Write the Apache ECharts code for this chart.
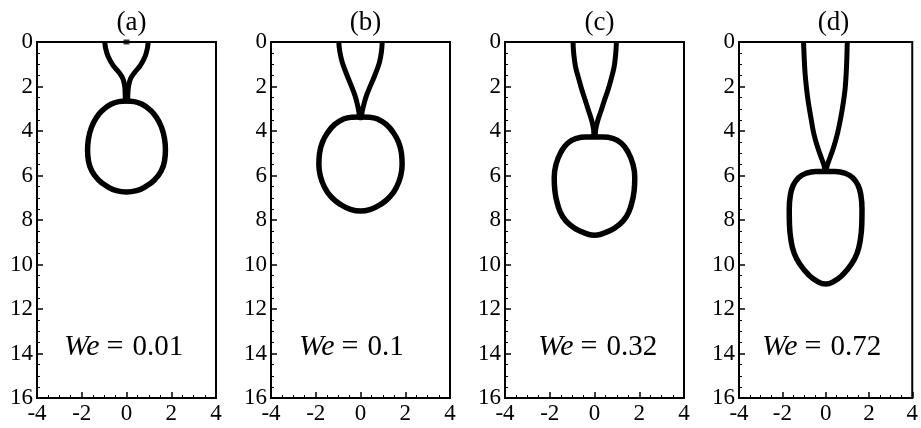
<!DOCTYPE html>
<html>
<head>
<meta charset="utf-8">
<title>Drop shapes</title>
<script src="https://cdn.jsdelivr.net/npm/echarts@6/dist/echarts.min.js"></script>
<style>
  html, body { margin: 0; padding: 0; background: #fff; }
  #main { width: 921px; height: 428px; }
</style>
</head>
<body>
<div id="main"></div>
<script>
// panel labels and Weber numbers
const panelTitles = ['(a)', '(b)', '(c)', '(d)']
const weValues = ['0.01', '0.1', '0.32', '0.72']
// axis ranges (x: -4..4, y: 0..16 downward), ticks every 2
const xRange = [-4, 4]
const yRange = [0, 16]
const tickStep = 2

// neck outlines, [x, y]: down the left side then up the right side
const neckA = [[-0.97, 0], [-0.93, 0.3], [-0.82, 0.65], [-0.6, 1.05], [-0.35, 1.35], [-0.16, 1.65], [-0.08, 2.0], [-0.06, 2.35], [-0.04, 2.65],
  [0.04, 2.65], [0.06, 2.35], [0.09, 2.0], [0.18, 1.65], [0.38, 1.35], [0.62, 1.05], [0.83, 0.65], [0.93, 0.3], [0.97, 0]]
const neckB = [[-0.97, 0], [-0.93, 0.4], [-0.82, 0.9], [-0.62, 1.45], [-0.42, 1.95], [-0.25, 2.4], [-0.14, 2.8], [-0.07, 3.15], [-0.04, 3.4],
  [0.04, 3.4], [0.07, 3.15], [0.15, 2.8], [0.27, 2.4], [0.45, 1.95], [0.66, 1.45], [0.85, 0.9], [0.94, 0.4], [0.97, 0]]
const neckC = [[-0.96, 0], [-0.93, 0.5], [-0.85, 1.1], [-0.72, 1.6], [-0.58, 2.1], [-0.42, 2.6], [-0.26, 3.1], [-0.12, 3.55], [-0.04, 3.95], [-0.02, 4.25],
  [0.02, 4.25], [0.05, 3.95], [0.14, 3.55], [0.29, 3.1], [0.45, 2.6], [0.62, 2.1], [0.76, 1.6], [0.88, 1.1], [0.95, 0.5], [0.98, 0]]
const neckD = [[-1.02, 0], [-0.99, 0.7], [-0.95, 1.4], [-0.88, 2.1], [-0.8, 2.7], [-0.68, 3.4], [-0.55, 4.1], [-0.38, 4.7], [-0.2, 5.2], [-0.06, 5.6], [-0.02, 5.82],
  [0.02, 5.82], [0.06, 5.6], [0.2, 5.2], [0.38, 4.7], [0.55, 4.1], [0.7, 3.4], [0.82, 2.7], [0.9, 2.1], [0.95, 1.4], [0.98, 0.7], [1.0, 0]]

// drop outlines, [x, y]: closed loop from the top point
const dropA = [[0, 2.65], [0.35, 2.68], [0.7, 2.8], [1.05, 3.05], [1.35, 3.4], [1.57, 3.85], [1.7, 4.35], [1.74, 4.85], [1.7, 5.35], [1.55, 5.8], [1.25, 6.2], [0.85, 6.5], [0.45, 6.68], [0, 6.74],
  [-0.45, 6.68], [-0.85, 6.5], [-1.25, 6.2], [-1.55, 5.8], [-1.7, 5.35], [-1.74, 4.85], [-1.7, 4.35], [-1.57, 3.85], [-1.35, 3.4], [-1.05, 3.05], [-0.7, 2.8], [-0.35, 2.68], [0, 2.65]]
const dropB = [[0, 3.37], [0.4, 3.38], [0.8, 3.48], [1.15, 3.7], [1.45, 4.05], [1.7, 4.5], [1.83, 5.0], [1.86, 5.5], [1.8, 6.0], [1.62, 6.5], [1.32, 6.95], [0.9, 7.3], [0.45, 7.52], [0, 7.6],
  [-0.45, 7.52], [-0.9, 7.3], [-1.32, 6.95], [-1.62, 6.5], [-1.8, 6.0], [-1.86, 5.5], [-1.83, 5.0], [-1.7, 4.5], [-1.45, 4.05], [-1.15, 3.7], [-0.8, 3.48], [-0.4, 3.38], [0, 3.37]]
const dropC = [[0, 4.27], [0.4, 4.27], [0.8, 4.33], [1.2, 4.55], [1.5, 4.95], [1.72, 5.5], [1.8, 6.1], [1.77, 6.7], [1.65, 7.3], [1.42, 7.85], [1.05, 8.25], [0.6, 8.52], [0.25, 8.65], [0, 8.68],
  [-0.25, 8.65], [-0.6, 8.52], [-1.05, 8.25], [-1.42, 7.85], [-1.65, 7.3], [-1.77, 6.7], [-1.8, 6.1], [-1.72, 5.5], [-1.5, 4.95], [-1.2, 4.55], [-0.8, 4.33], [-0.4, 4.27], [0, 4.27]]
const dropD = [[0, 5.82], [0.45, 5.82], [0.9, 5.9], [1.25, 6.1], [1.5, 6.45], [1.63, 6.9], [1.68, 7.5], [1.67, 8.2], [1.6, 8.9], [1.45, 9.5], [1.18, 10.0], [0.8, 10.45], [0.4, 10.75], [0, 10.88],
  [-0.4, 10.75], [-0.8, 10.45], [-1.18, 10.0], [-1.45, 9.5], [-1.6, 8.9], [-1.67, 8.2], [-1.68, 7.5], [-1.63, 6.9], [-1.5, 6.45], [-1.25, 6.1], [-0.9, 5.9], [-0.45, 5.82], [0, 5.82]]

// small marker at the nozzle centre in (a)
const markerA = [[0, 0]]

const necks = [neckA, neckB, neckC, neckD]
const drops = [dropA, dropB, dropC, dropD]

const serif = 'Liberation Serif, Times New Roman, serif'
const gridLefts = [37, 271, 505, 739]
const gridW = 179
const weLefts = [59, 294, 533, 757]

const grids = [], xAxes = [], yAxes = [], series = [], titles = []

gridLefts.forEach((left, i) => {
  grids.push({
    left: left, top: 42, width: gridW, height: 356,
    show: true, borderColor: '#000', borderWidth: 2, backgroundColor: 'transparent'
  })
  xAxes.push({
    type: 'value', gridIndex: i, min: xRange[0], max: xRange[1], interval: tickStep,
    axisLine: { onZero: false, lineStyle: { color: '#000', width: 2 } },
    axisTick: { inside: true, length: 6, lineStyle: { color: '#000', width: 1.5 } },
    minorTick: { show: true, splitNumber: 4, length: 3, lineStyle: { color: '#000', width: 1 } },
    axisLabel: { color: '#000', fontFamily: serif, fontSize: 23, margin: 4 },
    splitLine: { show: false }
  })
  yAxes.push({
    type: 'value', gridIndex: i, min: yRange[0], max: yRange[1], interval: tickStep, inverse: true,
    axisLine: { onZero: false, lineStyle: { color: '#000', width: 2 } },
    axisTick: { inside: true, length: 6, lineStyle: { color: '#000', width: 1.5 } },
    minorTick: { show: true, splitNumber: 4, length: 3, lineStyle: { color: '#000', width: 1 } },
    axisLabel: { color: '#000', fontFamily: serif, fontSize: 23, margin: 4 },
    splitLine: { show: false }
  })
  series.push({
    type: 'line', xAxisIndex: i, yAxisIndex: i, data: necks[i],
    smooth: 0.4, showSymbol: false, lineStyle: { color: '#000', width: 5 }
  })
  series.push({
    type: 'line', xAxisIndex: i, yAxisIndex: i, data: drops[i],
    smooth: 0.5, showSymbol: false, lineStyle: { color: '#000', width: 5.5 }
  })
  titles.push({
    text: panelTitles[i], left: left + gridW / 2, top: 4, textAlign: 'center',
    textStyle: { fontFamily: serif, fontSize: 27, fontWeight: 'normal', color: '#000' }
  })
  titles.push({
    text: '{i|We}{e|=}{n|' + weValues[i] + '}', left: weLefts[i], top: 327,
    textStyle: {
      fontFamily: serif, fontSize: 29, fontWeight: 'normal', color: '#000',
      rich: {
        i: { fontFamily: serif, fontSize: 30, fontStyle: 'italic', color: '#000' },
        e: { fontFamily: serif, fontSize: 30, color: '#000', padding: [0, 9, 0, 7] },
        n: { fontFamily: serif, fontSize: 29, color: '#000' }
      }
    }
  })
})

series.push({
  type: 'scatter', xAxisIndex: 0, yAxisIndex: 0, data: markerA,
  symbol: 'rect', symbolSize: [6, 5], itemStyle: { color: '#000' }, clip: false
})

const chart = echarts.init(document.getElementById('main'))
chart.setOption({
  animation: false,
  backgroundColor: '#fff',
  title: titles,
  grid: grids,
  xAxis: xAxes,
  yAxis: yAxes,
  series: series
})
</script>
</body>
</html>
